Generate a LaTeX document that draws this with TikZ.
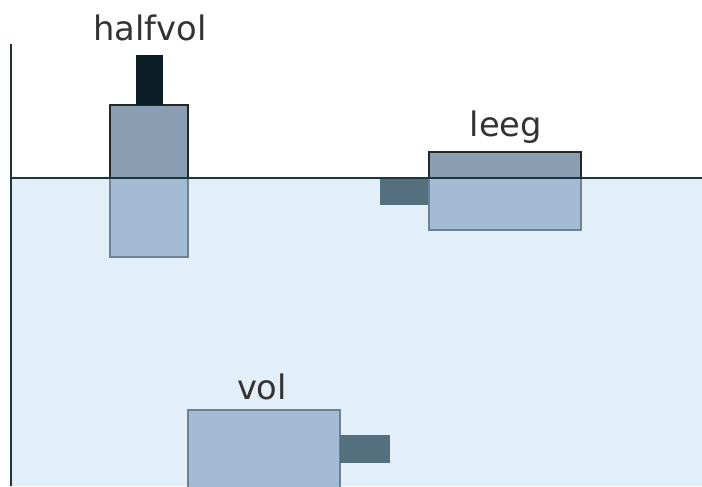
\documentclass[tikz,border=0pt]{standalone}
\usepackage{fontspec}
\setmainfont{DejaVu Sans}
\usetikzlibrary{positioning}
\definecolor{water}{HTML}{E2EFF9}
\definecolor{hullup}{HTML}{8A9FB4}
\definecolor{hulldown}{HTML}{A3BCD3}
\definecolor{edgedown}{HTML}{6E8293}
\definecolor{weightc}{HTML}{0B1D25}
\definecolor{blockc}{HTML}{54707F}
\definecolor{axisc}{HTML}{1A3642}
\tikzset{upperhull/.style={draw=black!85,fill=hullup,line width=1.8pt}}
\tikzset{lowerhull/.style={draw=edgedown,fill=hulldown,line width=1.8pt}}
\tikzset{lump/.style={fill=blockc}}
\tikzset{tag/.style={text=black!80,font=\fontsize{24}{28}\selectfont}}
\tikzset{axis/.style={draw=axisc,line width=1.7pt}}

\begin{document}
\begin{tikzpicture}[x=0.025cm,y=-0.025cm]
\useasboundingbox (0,0) rectangle (702,486);
% water
\fill[water] (11,178) rectangle (702,486);
% half full
\draw[lowerhull] (110,178) rectangle (188,257);
\draw[upperhull] (110,105) rectangle (188,178);
\fill[weightc] (136,55) rectangle (163,105);
\node (halfvol) [tag] at (150,28) {halfvol};
% empty
\fill[lump] (380,178) rectangle (429,205);
\draw[lowerhull] (429,178) rectangle (581,230);
\draw[upperhull] (429,152) rectangle (581,178);
\node (leeg) [tag] at (506,127) {leeg};
% full
\draw[lowerhull] (188,410) rectangle (340,495);
\fill[lump] (340,435) rectangle (390,463);
\node (vol) [tag] at (262,387) {vol};
% surface and wall
\coordinate (top) at (11,44);
\coordinate (bottom) at (11,486);
\coordinate (left) at (11,178);
\coordinate (right) at (702,178);
\draw[axis] (top) -- (bottom);
\draw[axis] (left) -- (right);
\end{tikzpicture}
\end{document}
